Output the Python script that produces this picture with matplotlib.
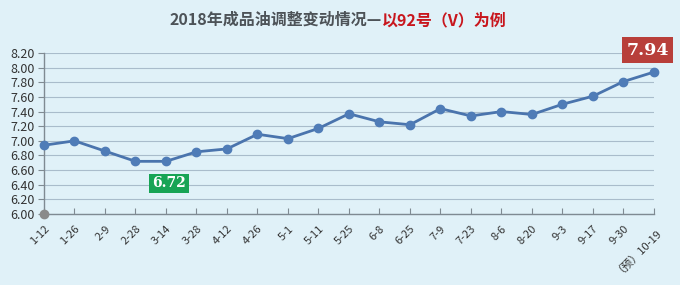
import matplotlib
matplotlib.use("Agg")
import matplotlib.pyplot as plt

plt.rcParams['font.family'] = ['Noto Sans CJK SC', 'DejaVu Sans']

dates = ["1-12", "1-26", "2-9", "2-28", "3-14", "3-28", "4-12", "4-26", "5-1", "5-11",
         "5-25", "6-8", "6-25", "7-9", "7-23", "8-6", "8-20", "9-3", "9-17", "9-30",
         "（预）10-19"]
prices = [6.94, 7.00, 6.86, 6.72, 6.72, 6.85, 6.89, 7.09, 7.03, 7.17,
          7.37, 7.26, 7.22, 7.44, 7.34, 7.40, 7.36, 7.50, 7.61, 7.81, 7.94]
yticks = [6.00, 6.20, 6.40, 6.60, 6.80, 7.00, 7.20, 7.40, 7.60, 7.80, 8.00, 8.20]
min_label = "6.72"
max_label = "7.94"

bg = "#e0f1f8"
fig = plt.figure(figsize=(6.8, 2.85), dpi=100, facecolor=bg)
ax = fig.add_axes([0.0647, 0.249, 0.897, 0.565], facecolor=bg)

x = list(range(len(dates)))
ax.set_xlim(0, len(dates) - 1)
ax.set_ylim(yticks[0], yticks[-1])
ax.set_yticks(yticks)
ax.set_yticklabels([f"{v:.2f}" for v in yticks], fontsize=9, color="#333333")
ax.set_xticks(x)
ax.set_xticklabels(dates, rotation=45, ha="right", rotation_mode="anchor",
                   fontsize=8, color="#333333")
ax.grid(axis="y", color="#a9bccb", linewidth=0.8)
ax.set_axisbelow(True)
for s in ["top", "right"]:
    ax.spines[s].set_visible(False)
for s in ["left", "bottom"]:
    ax.spines[s].set_color("#7f8a92")
    ax.spines[s].set_linewidth(1.0)
ax.tick_params(axis="x", direction="in", length=4, color="#7f8a92", pad=7)
ax.tick_params(axis="y", direction="out", length=4, color="#7f8a92", pad=3)

ax.plot(x, prices, color="#4a74ad", linewidth=2, marker="o", markersize=6,
        markerfacecolor="#4f7cb7", markeredgecolor="#4f7cb7", clip_on=False, zorder=3)
ax.plot([0], [yticks[0]], marker="o", markersize=6, color="#8a8a8a", clip_on=False, zorder=4)

imin = prices.index(min(prices)) + 1
ax.text(imin + 0.1, 6.42, min_label, ha="center", va="center", fontsize=10, fontweight="bold",
        color="white", family=["DejaVu Serif"],
        bbox=dict(boxstyle="square,pad=0.2", facecolor="#17a455", edgecolor="none"))
imax = len(prices) - 1
ax.text(imax - 0.2, 8.24, max_label, ha="center", va="center", fontsize=12.5, fontweight="bold",
        color="white", family=["DejaVu Serif"], clip_on=False,
        bbox=dict(boxstyle="square,pad=0.25", facecolor="#b83f3a", edgecolor="none"))

t1 = fig.text(0.5, 0.93, "2018年成品油调整变动情况—", ha="right", va="center",
              fontsize=11.5, fontweight="bold", color="#4d5358")
t2 = fig.text(0.5, 0.93, "以92号（V）为例", ha="left", va="center",
              fontsize=11.5, fontweight="bold", color="#c8161d")
fig.canvas.draw()
r = fig.canvas.get_renderer()
w1 = t1.get_window_extent(r).width
w2 = t2.get_window_extent(r).width
center = 338
start = center - (w1 + w2) / 2
t1.set_x((start + w1) / 680)
t2.set_x((start + w1) / 680)

fig.savefig("out.png", dpi=100, facecolor=bg)
